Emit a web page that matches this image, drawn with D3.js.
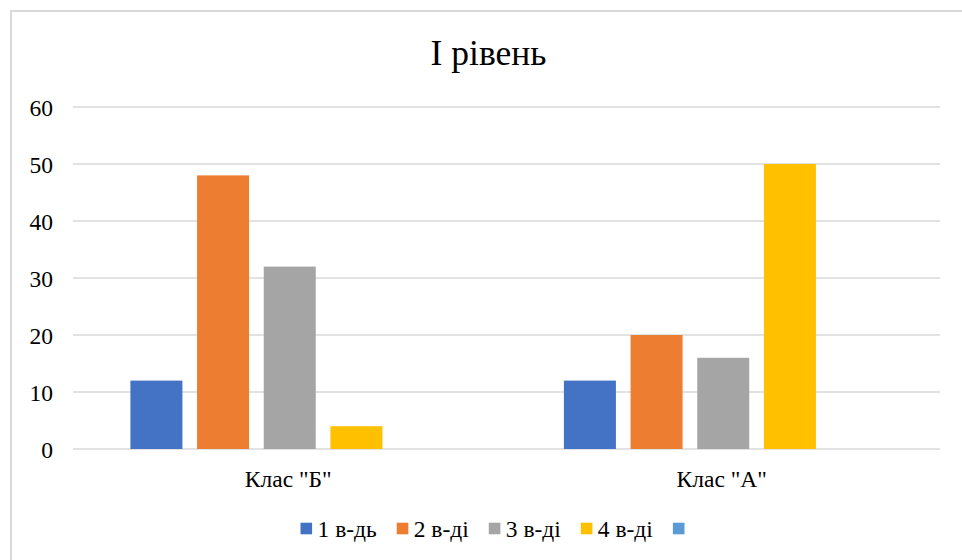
<!DOCTYPE html>
<html>
<head>
<meta charset="utf-8">
<script src="https://cdn.jsdelivr.net/npm/d3@7"></script>
<style>
  html, body { margin: 0; padding: 0; background: #fff; }
  svg text { font-family: "Liberation Serif", "Times New Roman", serif; }
</style>
</head>
<body>
<svg id="chart" width="962" height="560"></svg>
<script>
// Chart data
const categories = ['Клас "Б"', 'Клас "А"'];
const seriesNames = ["1 в-дь", "2 в-ді", "3 в-ді", "4 в-ді", ""];
const seriesColors = ["#4472C4", "#ED7D31", "#A5A5A5", "#FFC000", "#5B9BD5"];
const series1 = [12, 12];
const series2 = [48, 20];
const series3 = [32, 16];
const series4 = [4, 50];
const series5 = [0, 0];
const yTicks = [0, 10, 20, 30, 40, 50, 60];
const titleText = "І рівень";

const seriesValues = [series1, series2, series3, series4, series5];
const FONT = "'Liberation Serif', 'Times New Roman', serif";
const LABEL_SIZE = "23.5px";

const svg = d3.select("#chart");
const W = 962, H = 560;
const plot = { left: 73, right: 940, top: 107, bottom: 449 };

// Outer chart frame
svg.append("rect")
  .attr("x", 11).attr("y", 11)
  .attr("width", W + 10).attr("height", H + 10)
  .attr("fill", "#fff")
  .attr("stroke", "#d9d9d9").attr("stroke-width", 2);

// Title
svg.append("text")
  .attr("x", 488.5).attr("y", 64.5)
  .attr("text-anchor", "middle")
  .style("font-family", FONT)
  .style("font-size", "35.5px")
  .attr("fill", "#000")
  .text(titleText);

const y = d3.scaleLinear().domain([0, 60]).range([plot.bottom, plot.top]);
const x0 = d3.scaleBand().domain(categories).range([plot.left, plot.right]).paddingInner(0).paddingOuter(0);
const x1 = d3.scaleBand().domain(d3.range(seriesNames.length))
  .range([57.4, x0.bandwidth() - 57.4]).paddingInner(0.22).paddingOuter(0);

// Gridlines
svg.append("g")
  .selectAll("line")
  .data(yTicks)
  .join("line")
  .attr("x1", plot.left).attr("x2", plot.right)
  .attr("y1", d => y(d)).attr("y2", d => y(d))
  .attr("stroke", "#d9d9d9").attr("stroke-width", 1.5);

// Y axis labels
const yAxis = d3.axisLeft(y).tickValues(yTicks).tickSize(0).tickPadding(0);
const gy = svg.append("g").attr("transform", `translate(53,0)`).call(yAxis);
gy.attr("font-family", null).attr("font-size", null);
gy.select(".domain").remove();
gy.selectAll("text")
  .style("font-family", FONT)
  .style("font-size", LABEL_SIZE).attr("fill", "#000")
  .attr("dy", "0.36em");

// Bars
const groups = svg.append("g")
  .selectAll("g")
  .data(categories)
  .join("g")
  .attr("transform", d => `translate(${x0(d)},0)`);

groups.selectAll("rect")
  .data((c, ci) => seriesValues.map((vals, si) => ({ si, v: vals[ci] })))
  .join("rect")
  .attr("x", d => x1(d.si))
  .attr("width", x1.bandwidth())
  .attr("y", d => y(d.v))
  .attr("height", d => y(0) - y(d.v))
  .attr("fill", d => seriesColors[d.si]);

// Category axis labels
const xAxis = d3.axisBottom(x0).tickSize(0).tickPadding(0);
const gx = svg.append("g").attr("transform", `translate(-1.5,${plot.bottom + 38})`).call(xAxis);
gx.attr("font-family", null).attr("font-size", null);
gx.select(".domain").remove();
gx.selectAll("text")
  .style("font-family", FONT)
  .style("font-size", LABEL_SIZE).attr("fill", "#000")
  .attr("dy", "0");

// Legend
const legend = svg.append("g");
let lx = 300.5;
const ly = 528.5;
seriesNames.forEach((name, i) => {
  legend.append("rect")
    .attr("x", lx).attr("y", ly - 5.8)
    .attr("width", 11.6).attr("height", 11.6)
    .attr("fill", seriesColors[i]);
  const t = legend.append("text")
    .attr("x", lx + 17).attr("y", ly + 8.5)
    .style("font-family", FONT)
    .style("font-size", LABEL_SIZE).attr("fill", "#000")
    .text(name);
  const w = name ? t.node().getComputedTextLength() : 0;
  lx += 17 + w + 20;
});
</script>
</body>
</html>
